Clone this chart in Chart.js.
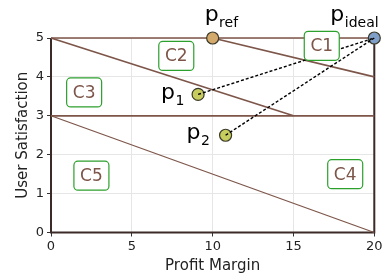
<!DOCTYPE html>
<html>
<head>
<meta charset="utf-8">
<script src="https://cdn.jsdelivr.net/npm/chart.js@4.4.1/dist/chart.umd.min.js"></script>
<style>
  html, body { margin: 0; padding: 0; background: #fff; }
  #wrap { width: 383px; height: 275px; }
</style>
</head>
<body>
<div id="wrap"><canvas id="myChart" width="383" height="275"></canvas></div>
<script>
// axis ticks
const xTicks = [0, 5, 10, 15, 20];
const yTicks = [0, 1, 2, 3, 4, 5];

// boundary lines (start/end pairs)
const lineX = [[0, 20], [0, 15], [10, 20], [0, 20], [0, 20]];
const lineY = [[5, 5], [5, 3], [5, 4], [3, 3], [3, 0]];
const lineW = [1.7, 1.7, 1.7, 1.7, 1.2];

// named points
const pointMain = ['p', 'p', 'p', 'p'];
const pointSub = ['ref', 'ideal', '1', '2'];
const pointX = [10, 20, 9.1, 10.8];
const pointY = [5, 5, 3.55, 2.5];
const pointColor = ['#d3aa6c', '#809fc8', '#c6cc5d', '#c6cc5d'];

// dashed links p1 -> ideal, p2 -> ideal
const linkFrom = [2, 3];
const linkTo = 1;

// region labels
const regionNames = ['C1', 'C2', 'C3', 'C4', 'C5'];
const regionX = [16.75, 7.75, 2.05, 18.2, 2.5];
const regionY = [4.8, 4.54, 3.6, 1.5, 1.46];

const brown = '#7d5549';
const FONT = 'DejaVu Sans';

const datasets = [];
lineX.forEach((xs, i) => {
  datasets.push({
    data: [{ x: xs[0], y: lineY[i][0] }, { x: xs[1], y: lineY[i][1] }],
    showLine: true,
    borderColor: brown,
    borderWidth: lineW[i],
    pointRadius: 0,
    clip: false,
    order: 5,
  });
});
pointX.forEach((x, i) => {
  datasets.push({
    data: [{ x: x, y: pointY[i] }],
    pointRadius: 6,
    pointBackgroundColor: pointColor[i],
    pointBorderColor: '#3a3a2a',
    pointBorderWidth: 1.2,
    clip: false,
    order: 3,
  });
});
linkFrom.forEach((f) => {
  datasets.push({
    data: [{ x: pointX[f], y: pointY[f] }, { x: pointX[linkTo], y: pointY[linkTo] }],
    showLine: true,
    borderColor: '#000',
    borderWidth: 1.4,
    borderDash: [3, 2],
    pointRadius: 0,
    clip: false,
    order: 1,
  });
});

const spinesPlugin = {
  id: 'spinesPlugin',
  beforeDatasetsDraw(chart) {
    const ctx = chart.ctx;
    const a = chart.chartArea;
    ctx.save();
    ctx.strokeStyle = '#3b2a27';
    ctx.lineWidth = 2;
    ctx.beginPath();
    ctx.moveTo(a.left, a.top);
    ctx.lineTo(a.left, a.bottom);
    ctx.lineTo(a.right, a.bottom);
    ctx.lineTo(a.right, a.top);
    ctx.stroke();
    ctx.restore();
  },
};

const labelsPlugin = {
  id: 'labelsPlugin',
  afterDatasetsDraw(chart) {
    const ctx = chart.ctx;
    const xs = chart.scales.x, ys = chart.scales.y;
    ctx.save();
    // region boxes
    ctx.font = '17px "' + FONT + '"';
    ctx.textAlign = 'center';
    ctx.textBaseline = 'middle';
    regionNames.forEach((n, i) => {
      const cx = xs.getPixelForValue(regionX[i]);
      const cy = ys.getPixelForValue(regionY[i]);
      const w = 35, h = 29;
      ctx.beginPath();
      ctx.roundRect(cx - w / 2, cy - h / 2, w, h, 4);
      ctx.fillStyle = '#fff';
      ctx.fill();
      ctx.strokeStyle = '#2ca02c';
      ctx.lineWidth = 1.2;
      ctx.stroke();
      ctx.fillStyle = brown;
      ctx.fillText(n, cx, cy + 1);
    });

    // point labels
    const offs = [[-8, -17], [-44, -17], [-37, 5], [-39, 4]];
    ctx.textAlign = 'left';
    ctx.textBaseline = 'alphabetic';
    ctx.fillStyle = '#000';
    pointMain.forEach((m, i) => {
      const px = xs.getPixelForValue(pointX[i]) + offs[i][0];
      const py = ys.getPixelForValue(pointY[i]) + offs[i][1];
      ctx.font = '22px "' + FONT + '"';
      ctx.fillText(m, px, py);
      const w = ctx.measureText(m).width;
      ctx.font = '14px "' + FONT + '"';
      ctx.fillText(pointSub[i], px + w + 0.5, py + 6);
    });
    ctx.restore();
  },
};

new Chart(document.getElementById('myChart'), {
  type: 'scatter',
  data: { datasets: datasets },
  plugins: [spinesPlugin, labelsPlugin],
  options: {
    responsive: false,
    animation: false,
    layout: { padding: { top: 38, right: 8.7, left: 0, bottom: 0 } },
    plugins: { legend: { display: false }, tooltip: { enabled: false } },
    scales: {
      x: {
        type: 'linear',
        min: 0,
        max: 20,
        afterBuildTicks: (s) => { s.ticks = xTicks.map((v) => ({ value: v })); },
        afterFit: (s) => { s.height = 42.5; s.paddingRight = 0; },
        grid: { color: '#e6e6e6', tickColor: '#333', tickLength: 4 },
        border: { display: false },
        ticks: { color: '#222', font: { family: FONT, size: 13 }, padding: 2 },
        title: { display: true, text: 'Profit Margin', color: '#222', font: { family: FONT, size: 15 }, padding: { top: 0, bottom: 0 } },
      },
      y: {
        type: 'linear',
        min: 0,
        max: 5,
        afterBuildTicks: (s) => { s.ticks = yTicks.map((v) => ({ value: v })); },
        afterFit: (s) => { s.width = 51; },
        grid: { color: '#e6e6e6', tickColor: '#333', tickLength: 4 },
        border: { display: false },
        ticks: { color: '#222', font: { family: FONT, size: 13 }, padding: 3 },
        title: { display: true, text: 'User Satisfaction', color: '#222', font: { family: FONT, size: 15 }, padding: { top: 14, bottom: 0 } },
      },
    },
  },
});
</script>
</body>
</html>
